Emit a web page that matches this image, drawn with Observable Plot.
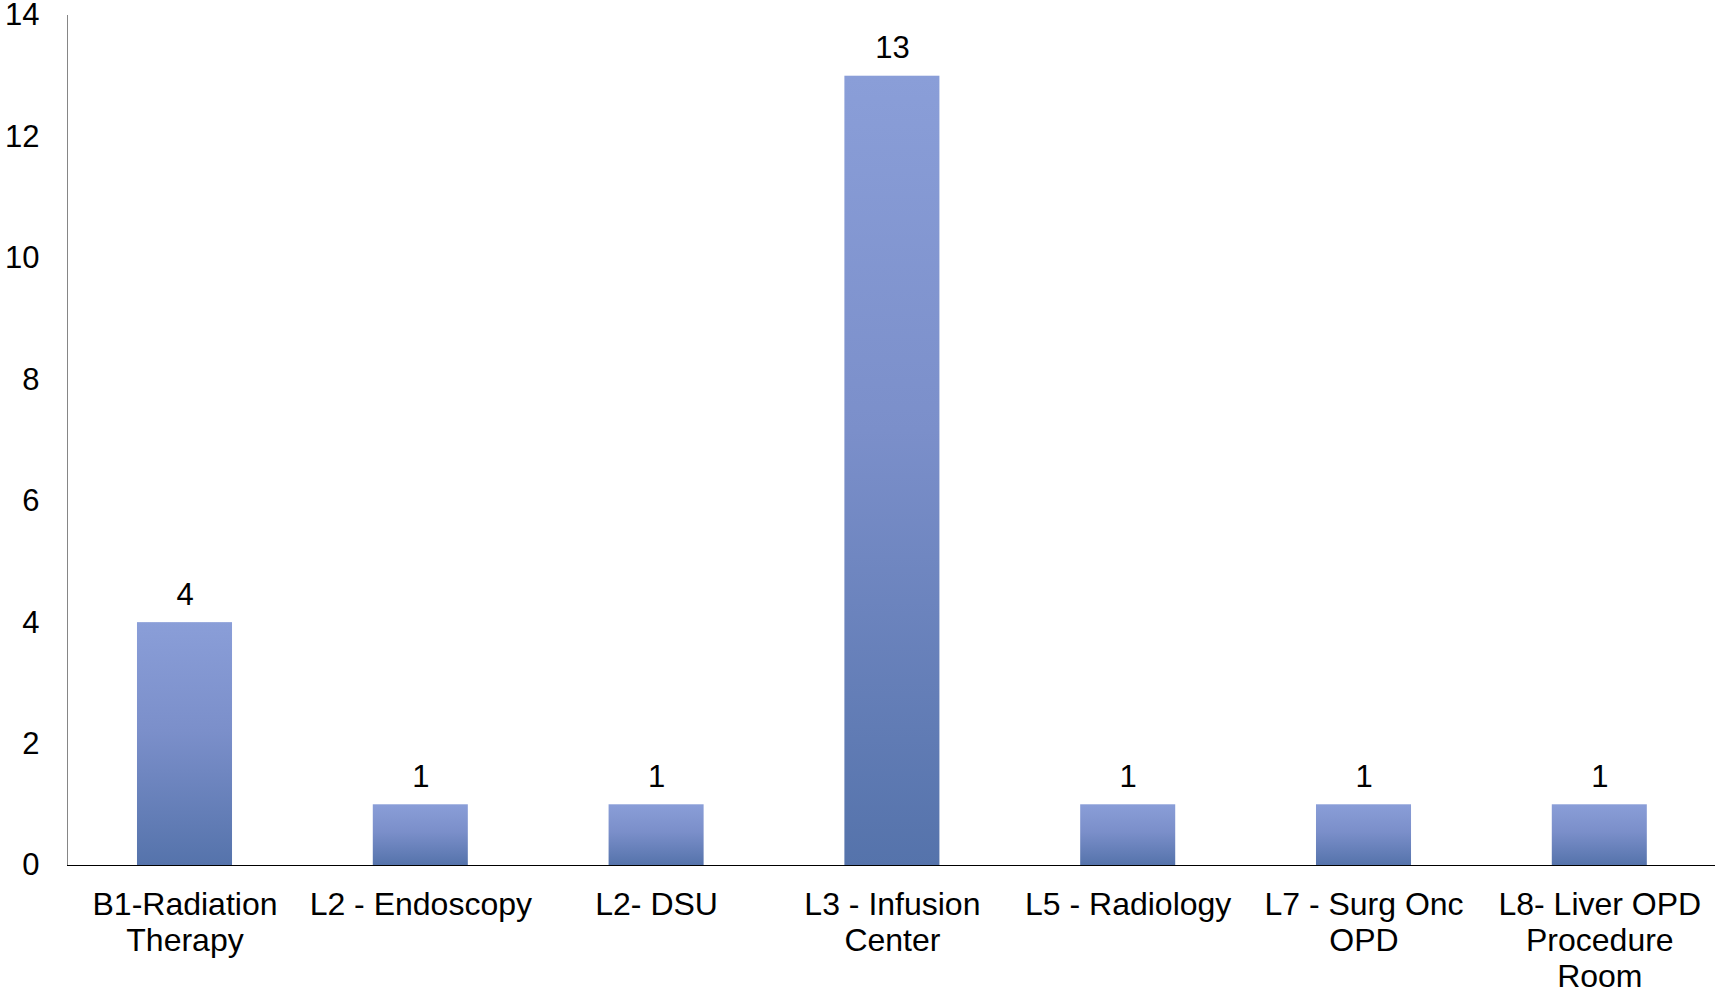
<!DOCTYPE html>
<html>
<head>
<meta charset="utf-8">
<script src="https://cdn.jsdelivr.net/npm/d3@7"></script>
<script src="https://cdn.jsdelivr.net/npm/@observablehq/plot@0.6"></script>
<style>
  html, body { margin: 0; padding: 0; background: #fff; }
  svg { display: block; }
</style>
</head>
<body>
<div id="chart"></div>
<script>
const categories = [
  "B1-Radiation\nTherapy",
  "L2 - Endoscopy",
  "L2- DSU",
  "L3 - Infusion\nCenter",
  "L5 - Radiology",
  "L7 - Surg Onc\nOPD",
  "L8- Liver OPD\nProcedure\nRoom"
];
const values = [4, 1, 1, 13, 1, 1, 1];
const yTicks = [0, 2, 4, 6, 8, 10, 12, 14];

const data = categories.map((c, i) => ({category: c, value: values[i]}));
const font = "'Liberation Sans', Arial, sans-serif";

const gradientDefs = () => {
  const defs = d3.create("svg:defs");
  const g = defs.append("linearGradient")
    .attr("id", "barGrad").attr("x1", 0).attr("y1", 0).attr("x2", 0).attr("y2", 1);
  g.append("stop").attr("offset", "0%").attr("stop-color", "#8a9ed8");
  g.append("stop").attr("offset", "45%").attr("stop-color", "#7b8fca");
  g.append("stop").attr("offset", "100%").attr("stop-color", "#5573ab");
  return defs.node();
};

const chart = Plot.plot({
  width: 1715,
  height: 994,
  marginLeft: 67,
  marginRight: 0,
  marginTop: 15,
  marginBottom: 129,
  style: {fontFamily: font, fontSize: "31px", color: "#000", background: "#fff"},
  x: {domain: categories, range: [66.6, 1717.2], round: false, paddingInner: 0.597, paddingOuter: 0.2985, label: null},
  y: {domain: [0, 14], label: null},
  marks: [
    gradientDefs,
    Plot.barY(data, {x: "category", y: "value", fill: "url(#barGrad)"}),
    Plot.frame({anchor: "left", stroke: "#868686", strokeOpacity: 1}),
    Plot.ruleY([0], {stroke: "#000", strokeWidth: 1.2}),
    Plot.text(data, {x: "category", y: "value", text: d => String(d.value), lineAnchor: "bottom", dy: -18, fontSize: 31, fill: "#000"}),
    Plot.axisY({ticks: yTicks, tickSize: 0, tickPadding: 28, fontSize: 31, label: null, fill: "#000"}),
    Plot.axisX({tickSize: 0, tickPadding: 24, fontSize: 32, lineHeight: 1.125, lineAnchor: "top", label: null, fill: "#000"})
  ]
});
document.getElementById("chart").appendChild(chart);
</script>
</body>
</html>
